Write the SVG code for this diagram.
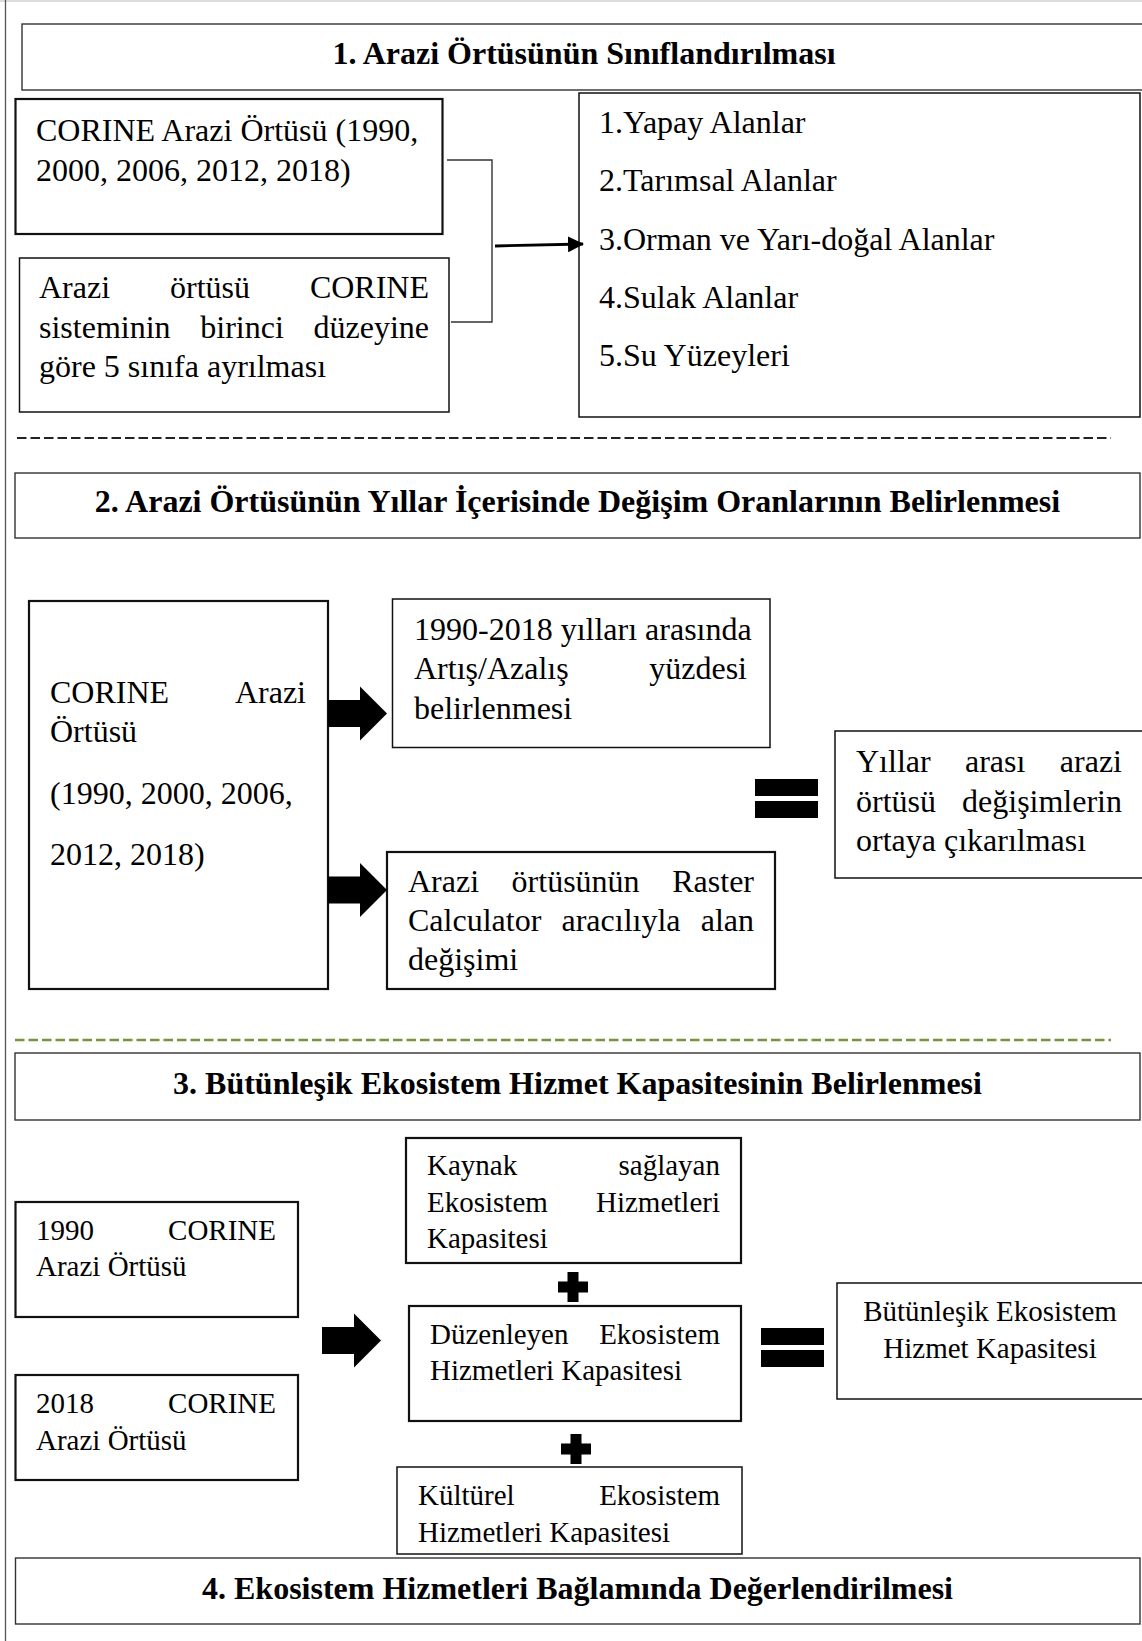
<svg xmlns="http://www.w3.org/2000/svg" width="1142" height="1641" viewBox="0 0 1142 1641">
<style>
.bg{fill:#fff}
.box{fill:#fff;stroke:#111;stroke-width:1.5}
.thk{stroke-width:2.2}
.ttl{fill:#fff;stroke:#333;stroke-width:1.4}
.t{font-family:"Liberation Serif","Times New Roman",serif;font-size:32px;fill:#000}
.b{font-weight:bold}
.s{font-size:29px}
.e{text-anchor:end}
.m{text-anchor:middle}
.con{fill:none;stroke:#333;stroke-width:1.4}
.arr{fill:none;stroke:#000;stroke-width:2.8}
.dash{fill:none;stroke:#222;stroke-width:2;stroke-dasharray:9.5 4}
.gdash{fill:none;stroke:#77933c;stroke-width:2.6;stroke-dasharray:9.5 4}
</style>
<defs>
<marker id="ah" markerUnits="userSpaceOnUse" markerWidth="16" markerHeight="16" refX="15" refY="8" orient="auto">
<path d="M0,0 L16,8 L0,16 Z" fill="#000"/>
</marker>
<path id="blk" d="M0,-13.5 H32 V-27 L59,0 L32,27 V13.5 H0 Z" fill="#000"/>
<g id="eq"><rect x="0" y="0" width="63" height="17" fill="#000"/><rect x="0" y="22" width="63" height="17" fill="#000"/></g>
<path id="plus" d="M-5.5,-15 H5.5 V-5.5 H15 V5.5 H5.5 V15 H-5.5 V5.5 H-15 V-5.5 H-5.5 Z" fill="#000"/>
<clipPath id="clipJ"><rect x="397" y="1467" width="345" height="78"/></clipPath>
</defs>
<rect class="bg" x="0" y="0" width="1142" height="1641"/>
<g id="frame">
<line x1="0" y1="1" x2="1142" y2="1" stroke="#dcdcdc" stroke-width="2"/>
<line x1="5.5" y1="0" x2="5.5" y2="1641" stroke="#555" stroke-width="1.3"/>
</g>

<g id="title1">
<rect class="ttl" x="22" y="24" width="1130" height="66"/>
<text class="t b m" x="584" y="64">1. Arazi Örtüsünün Sınıflandırılması</text>
</g>
<g id="boxA">
<rect class="box thk" x="15.5" y="99" width="427" height="135"/>
<text class="t" x="36" y="141">CORINE Arazi Örtüsü (1990,</text>
<text class="t" x="36" y="181">2000, 2006, 2012, 2018)</text>
</g>
<g id="boxB">
<rect class="box" x="19.5" y="258" width="429.5" height="154"/>
<text class="t" x="39" y="298">Arazi</text><text class="t m" x="210" y="298">örtüsü</text><text class="t e" x="429" y="298">CORINE</text>
<text class="t" x="39" y="338">sisteminin</text><text class="t m" x="242" y="338">birinci</text><text class="t e" x="429" y="338">düzeyine</text>
<text class="t" x="39" y="377">göre 5 sınıfa ayrılması</text>
</g>
<g id="boxC">
<rect class="box" x="579" y="93" width="561" height="324"/>
<text class="t" x="599" y="133">1.Yapay Alanlar</text>
<text class="t" x="599" y="191">2.Tarımsal Alanlar</text>
<text class="t" x="599" y="250">3.Orman ve Yarı-doğal Alanlar</text>
<text class="t" x="599" y="308">4.Sulak Alanlar</text>
<text class="t" x="599" y="366">5.Su Yüzeyleri</text>
</g>

<g id="separators">
<line class="dash" x1="17" y1="438" x2="1111" y2="438"/>
<line class="gdash" x1="15" y1="1040" x2="1111" y2="1040"/>
</g>

<g id="title2">
<rect class="ttl" x="15" y="473" width="1125" height="65"/>
<text class="t b m" x="577.5" y="512">2. Arazi Örtüsünün Yıllar İçerisinde Değişim Oranlarının Belirlenmesi</text>
</g>
<g id="boxD">
<rect class="box thk" x="29" y="601" width="299" height="388"/>
<text class="t" x="50" y="703">CORINE</text><text class="t e" x="306" y="703">Arazi</text>
<text class="t" x="50" y="742">Örtüsü</text>
<text class="t" x="50" y="804">(1990, 2000, 2006,</text>
<text class="t" x="50" y="865">2012, 2018)</text>
</g>
<g id="boxE">
<rect class="box" x="392.5" y="599" width="377.5" height="148.5"/>
<text class="t" x="414" y="640">1990-2018 yılları arasında</text>
<text class="t" x="414" y="679">Artış/Azalış</text><text class="t e" x="747" y="679">yüzdesi</text>
<text class="t" x="414" y="719">belirlenmesi</text>
</g>
<g id="boxF">
<rect class="box thk" x="387" y="852" width="388" height="137"/>
<text class="t" x="408" y="892">Arazi</text><text class="t m" x="575.6" y="892">örtüsünün</text><text class="t e" x="754" y="892">Raster</text>
<text class="t" x="408" y="931">Calculator</text><text class="t m" x="621" y="931">aracılıyla</text><text class="t e" x="754" y="931">alan</text>
<text class="t" x="408" y="970">değişimi</text>
</g>
<g id="boxG">
<rect class="box" x="835" y="731" width="320" height="147"/>
<text class="t" x="856" y="772">Yıllar</text><text class="t m" x="995.2" y="772">arası</text><text class="t e" x="1122" y="772">arazi</text>
<text class="t" x="856" y="812">örtüsü</text><text class="t e" x="1122" y="812">değişimlerin</text>
<text class="t" x="856" y="851">ortaya çıkarılması</text>
</g>

<g id="title3">
<rect class="ttl" x="15" y="1053" width="1125" height="67"/>
<text class="t b m" x="577.5" y="1094">3. Bütünleşik Ekosistem Hizmet Kapasitesinin Belirlenmesi</text>
</g>
<g id="boxK">
<rect class="box thk" x="15.5" y="1202" width="282.5" height="115"/>
<text class="t s" x="36" y="1240">1990</text><text class="t s e" x="276" y="1240">CORINE</text>
<text class="t s" x="36" y="1276">Arazi Örtüsü</text>
</g>
<g id="boxL">
<rect class="box thk" x="15.5" y="1375" width="282.5" height="105"/>
<text class="t s" x="36" y="1413">2018</text><text class="t s e" x="276" y="1413">CORINE</text>
<text class="t s" x="36" y="1450">Arazi Örtüsü</text>
</g>
<g id="boxH">
<rect class="box thk" x="406" y="1138" width="335" height="125"/>
<text class="t s" x="427" y="1175">Kaynak</text><text class="t s e" x="720" y="1175">sağlayan</text>
<text class="t s" x="427" y="1212">Ekosistem</text><text class="t s e" x="720" y="1212">Hizmetleri</text>
<text class="t s" x="427" y="1248">Kapasitesi</text>
</g>
<g id="boxI">
<rect class="box thk" x="409" y="1306" width="332" height="115"/>
<text class="t s" x="430" y="1344">Düzenleyen</text><text class="t s e" x="720" y="1344">Ekosistem</text>
<text class="t s" x="430" y="1380">Hizmetleri Kapasitesi</text>
</g>
<g id="boxJ">
<rect class="box" x="397" y="1467" width="345" height="87"/>
<g clip-path="url(#clipJ)">
<text class="t s" x="418" y="1505">Kültürel</text><text class="t s e" x="720" y="1505">Ekosistem</text>
<text class="t s" x="418" y="1542">Hizmetleri Kapasitesi</text>
</g>
</g>
<g id="boxM">
<rect class="box" x="837" y="1283" width="320" height="116"/>
<text class="t s m" x="990" y="1321">Bütünleşik Ekosistem</text>
<text class="t s m" x="990" y="1358">Hizmet Kapasitesi</text>
</g>
<g id="title4">
<rect class="ttl" x="15.5" y="1558" width="1124.5" height="66"/>
<text class="t b m" x="577.5" y="1599">4. Ekosistem Hizmetleri Bağlamında Değerlendirilmesi</text>
</g>

<g id="connectors">
<path class="con" d="M447,160 H492 V322 H451"/>
<line class="arr" x1="495" y1="246" x2="583" y2="244" marker-end="url(#ah)"/>
<use href="#blk" x="328" y="713.5"/>
<use href="#blk" x="328" y="890"/>
<use href="#blk" x="322" y="1340.5"/>
<use href="#eq" x="755" y="779"/>
<use href="#eq" x="761" y="1328"/>
<use href="#plus" x="573" y="1287"/>
<use href="#plus" x="576" y="1449"/>
</g>
</svg>
